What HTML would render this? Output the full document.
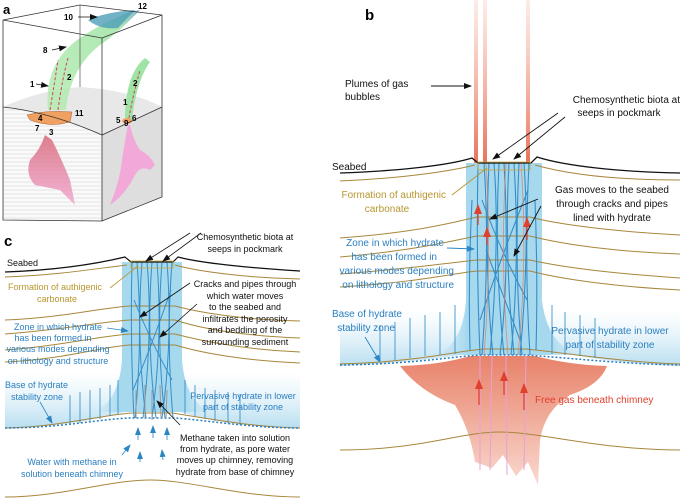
<!DOCTYPE html>
<html><head><meta charset="utf-8"><style>
html,body{margin:0;padding:0;background:#fff;}
svg{display:block;}
text{font-family:"Liberation Sans",sans-serif;}
</style></head><body>
<svg width="680" height="498" viewBox="0 0 680 498" xmlns="http://www.w3.org/2000/svg">
<defs>
<linearGradient id="plume" x1="0" y1="0" x2="0" y2="1"><stop offset="0" stop-color="#f4a38c" stop-opacity="0.2"/><stop offset="1" stop-color="#e8735a"/></linearGradient>
<linearGradient id="gas" x1="0" y1="0" x2="0" y2="1"><stop offset="0" stop-color="#e8826a"/><stop offset="1" stop-color="#f9d9cf"/></linearGradient>
<linearGradient id="band" x1="0" y1="0" x2="0" y2="1"><stop offset="0" stop-color="#d8eef7" stop-opacity="0"/><stop offset="1" stop-color="#b8def0"/></linearGradient>
<linearGradient id="chim" x1="0" y1="0" x2="1" y2="0"><stop offset="0" stop-color="#c5e6f4" stop-opacity="0.2"/><stop offset="0.22" stop-color="#a6d8ee"/><stop offset="0.78" stop-color="#a6d8ee"/><stop offset="1" stop-color="#c5e6f4" stop-opacity="0.2"/></linearGradient>
<linearGradient id="green" x1="0" y1="1" x2="1" y2="0"><stop offset="0" stop-color="#b6ecb0"/><stop offset="0.8" stop-color="#9fe3a5"/><stop offset="1" stop-color="#6aa8c8"/></linearGradient>
<linearGradient id="pink" x1="0" y1="0" x2="0" y2="1"><stop offset="0" stop-color="#d86a7a"/><stop offset="1" stop-color="#f2a8d2"/></linearGradient>
<marker id="ak" markerWidth="8" markerHeight="8" refX="7" refY="4" orient="auto" markerUnits="userSpaceOnUse"><path d="M0,1 L8,4 L0,7 Z" fill="#111"/></marker>
<marker id="ab" markerWidth="8" markerHeight="8" refX="7" refY="4" orient="auto" markerUnits="userSpaceOnUse"><path d="M0,1 L8,4 L0,7 Z" fill="#2a86c4"/></marker>
<marker id="ar" markerWidth="10" markerHeight="10" refX="9" refY="5" orient="auto" markerUnits="userSpaceOnUse"><path d="M0,1 L10,5 L0,9 Z" fill="#e0402e"/></marker>
<pattern id="hatch" width="6" height="4" patternUnits="userSpaceOnUse"><path d="M0,2 L6,2" stroke="#bbb" stroke-width="0.5"/></pattern>
</defs>

<!-- ============ PANEL A ============ -->
<text x="3" y="14" font-size="13" font-weight="bold">a</text>
<path d="M3,107 Q40,90 80,87 Q130,90 162,107 L102,135 Q50,112 3,107 Z" fill="#e8e8e8"/>
<path d="M3,107 Q50,112 102,135 L102,221 L3,220 Z" fill="url(#hatch)" stroke="none"/>
<path d="M3,107 Q50,112 102,135 L102,221 L3,220 Z" fill="#f0f0f0" opacity="0.35"/>
<path d="M102,135 L162,107 L162,197 L102,221 Z" fill="#dedede"/>
<path d="M48,110 C45,80 55,55 80,38 C95,28 110,20 130,12 L140,10 C125,25 115,35 100,45 C80,60 68,85 66,110 Z" fill="url(#green)" opacity="0.85"/>
<path d="M88,20 Q105,12 135,10 L118,28 Q100,30 88,20 Z" fill="#4e9fb8" opacity="0.8"/>
<path d="M50,110 Q55,80 58,60" stroke="#d04060" stroke-dasharray="3,2" fill="none"/>
<path d="M58,110 Q62,80 68,58" stroke="#d04060" stroke-dasharray="3,2" fill="none"/>
<path d="M125,120 C125,95 130,70 145,58 L150,62 C140,75 134,100 132,120 Z" fill="#9fe3a5"/>
<path d="M129,118 Q133,95 140,70" stroke="#d04060" stroke-dasharray="3,2" fill="none"/>
<path d="M27,115 Q45,110 72,112 L70,122 Q50,128 30,120 Z" fill="#f0a060" stroke="#a86030" stroke-width="0.5"/>
<ellipse cx="127" cy="121" rx="5" ry="3" fill="#f0a060"/>
<path d="M45,135 Q40,150 30,160 Q25,175 35,185 L60,190 Q70,200 75,205 L70,180 Q62,160 52,140 Z" fill="url(#pink)" opacity="0.85"/>
<path d="M130,125 Q133,140 140,150 Q150,155 155,165 L150,170 Q140,165 135,175 Q125,195 110,205 Q120,180 122,160 Q125,140 128,125 Z" fill="#f2a8d8"/>
<g stroke="#333" stroke-width="0.8" fill="none">
<path d="M3,20 L80,5 L162,15 L102,38 Z"/>
<path d="M3,20 L3,220 L102,221 L162,197 L162,15"/>
<path d="M102,38 L102,221"/>
<path d="M80,5 L80,87" stroke="#666"/>
<path d="M3,107 Q50,112 102,135 L162,107"/>
</g>
<g font-family="Liberation Serif,serif" font-size="8" font-weight="bold">
<text x="138" y="9">12</text><text x="64" y="20">10</text><text x="43" y="53">8</text>
<text x="30" y="87">1</text><text x="67" y="80">2</text><text x="133" y="86">2</text><text x="123" y="105">1</text>
<text x="75" y="116">11</text><text x="38" y="121">4</text><text x="35" y="131">7</text><text x="49" y="135">3</text>
<text x="116" y="123">5</text><text x="132" y="121">6</text><text x="124" y="126">9</text>
</g>
<g stroke="#111" stroke-width="0.8"><path d="M78,17 L97,17" marker-end="url(#ak)"/><path d="M52,50 L66,47" marker-end="url(#ak)"/><path d="M36,84 L48,86" marker-end="url(#ak)"/></g>

<!-- ============ PANEL B ============ -->
<text x="365" y="20" font-size="15" font-weight="bold">b</text>
<rect x="474" y="0" width="4" height="163" fill="url(#plume)"/>
<rect x="483" y="0" width="4" height="163" fill="url(#plume)"/>
<rect x="526" y="0" width="4" height="163" fill="url(#plume)"/>
<path d="M340,310 L680,310 L680,366 Q600,362 560,352 L480,352 Q420,362 340,366 Z" fill="url(#band)"/>
<path d="M466,163 L542,163 L542,300 Q547,345 580,355 L435,355 Q463,345 466,300 Z" fill="url(#chim)"/>
<path d="M400,366 Q440,365 470,356 L535,356 Q570,365 607,366 Q600,385 570,395 Q545,410 540,440 L538,485 L528,462 L516,476 L503,455 L492,468 L475,462 Q470,430 455,405 Q420,392 400,366 Z" fill="url(#gas)"/>
<g stroke="#a8873c" stroke-width="1" fill="none">
<path d="M340,181 C410,178 455,170 475,165 M535,165 C570,175 620,180 680,180"/>
<path d="M340,238 C420,232 455,222 477,217 L530,217 C560,225 620,232 680,235"/>
<path d="M340,257 C420,250 455,240 477,236 L530,236 C565,245 620,252 680,254"/>
<path d="M340,274 C420,268 455,262 477,260 L530,260 C565,268 620,274 680,278"/>
<path d="M340,287 C420,282 455,273 477,271 L530,271 C565,280 620,287 680,290"/>
<path d="M340,364 C420,362 460,350 485,349 L525,349 C560,352 620,362 680,364"/>
<path d="M340,450 C420,450 460,432 500,432 C540,432 600,450 680,450"/>
</g>
<path d="M340,365 C420,364 460,355 485,355 L525,355 C560,357 620,364 680,365" stroke="#2a7fc0" stroke-width="1.5" stroke-dasharray="2,2" fill="none"/>
<g stroke="#2a86c4" stroke-width="0.8"><path d="M380,325 L380,362"/><path d="M395,322 L395,360"/><path d="M410,318 L410,358"/><path d="M425,315 L425,356"/><path d="M440,312 L440,355"/><path d="M455,305 L455,354"/>
<path d="M552,305 L552,354"/><path d="M565,312 L565,355"/><path d="M580,315 L580,356"/><path d="M595,318 L595,358"/></g>
<g stroke="#2a86c4" stroke-width="1.1" fill="none" opacity="0.9">
<path d="M478,163 Q476,260 480,355"/><path d="M484,163 Q490,250 482,355"/><path d="M489,163 Q484,270 493,355"/>
<path d="M494,163 Q500,240 490,355"/><path d="M499,163 Q494,260 504,355"/><path d="M504,163 Q510,270 500,355"/>
<path d="M509,163 Q504,250 514,355"/><path d="M514,163 Q520,260 511,355"/><path d="M519,163 Q514,270 522,355"/>
<path d="M524,163 Q530,250 520,355"/><path d="M529,163 Q524,260 530,355"/><path d="M482,200 Q500,250 527,300"/>
<path d="M528,190 Q500,260 480,320"/><path d="M486,250 Q505,300 520,340"/><path d="M472,200 Q468,280 470,350"/><path d="M535,200 Q538,280 536,350"/>
</g>
<g stroke="#e07a5a" stroke-width="0.8" fill="none" opacity="0.8">
<path d="M486,163 Q492,260 484,355"/><path d="M506,163 Q500,260 508,355"/><path d="M521,163 Q528,260 518,355"/>
</g>
<g stroke="#e8a0d8" stroke-width="1" fill="none"><path d="M480,356 L480,470"/><path d="M492,356 L490,470"/><path d="M506,356 L507,475"/><path d="M526,356 L524,470"/></g>
<g stroke="#e0402e" stroke-width="1.3"><path d="M478,225 L478,205" marker-end="url(#ar)"/><path d="M487,245 L487,228" marker-end="url(#ar)"/><path d="M527,240 L527,218" marker-end="url(#ar)"/>
<path d="M479,405 L479,380" marker-end="url(#ar)"/><path d="M504,395 L504,372" marker-end="url(#ar)"/><path d="M524,410 L524,384" marker-end="url(#ar)"/></g>
<path d="M340,173 C400,171 450,165 472,158 L478,163 L531,163 L537,157 C565,166 620,172 680,173" stroke="#111" stroke-width="1.3" fill="none"/>
<rect x="478" y="162" width="52" height="8" fill="none" stroke="#c9a83c" stroke-width="0.8"/>
<g font-size="10" fill="#111">
<text x="345" y="87">Plumes of gas</text><text x="345" y="100">bubbles</text>
<text x="680" y="103" text-anchor="end">Chemosynthetic biota at</text><text x="619" y="116" text-anchor="middle">seeps in pockmark</text>
<text x="332" y="170">Seabed</text>
<text x="612" y="193" text-anchor="middle">Gas moves to the seabed</text><text x="612" y="207" text-anchor="middle">through cracks and pipes</text><text x="612" y="221" text-anchor="middle">lined with hydrate</text>
</g>
<g font-size="10" fill="#b8962e"><text x="446" y="198" text-anchor="end">Formation of authigenic</text><text x="387" y="212" text-anchor="middle">carbonate</text></g>
<g font-size="10" fill="#2a7fc0">
<text x="444" y="246" text-anchor="end">Zone in which hydrate</text><text x="437" y="260" text-anchor="end">has been formed in</text><text x="454" y="274" text-anchor="end">various modes depending</text><text x="454" y="288" text-anchor="end">on lithology and structure</text>
<text x="402" y="317" text-anchor="end">Base of hydrate</text><text x="395" y="331" text-anchor="end">stability zone</text>
<text x="610" y="334" text-anchor="middle">Pervasive hydrate in lower</text><text x="610" y="348" text-anchor="middle">part of stability zone</text>
</g>
<text x="535" y="403" font-size="10" fill="#e0402e">Free gas beneath chimney</text>
<g stroke="#111" stroke-width="0.9"><path d="M431,86 L471,86" marker-end="url(#ak)"/><path d="M558,113 L493,159" marker-end="url(#ak)"/><path d="M565,117 L514,159" marker-end="url(#ak)"/>
<path d="M538,199 L490,219" marker-end="url(#ak)"/><path d="M541,206 L514,256" marker-end="url(#ak)"/></g>
<path d="M452,195 L487,168" stroke="#b8962e" stroke-width="0.9"/>
<g stroke="#2a86c4" stroke-width="0.9"><path d="M447,248 L474,249" marker-end="url(#ab)"/><path d="M365,337 L380,362" marker-end="url(#ab)"/></g>

<!-- ============ PANEL C ============ -->
<text x="4" y="246" font-size="15" font-weight="bold">c</text>
<path d="M5,372 L300,372 L300,428 Q230,427 180,412 L125,412 Q70,427 5,428 Z" fill="url(#band)"/>
<path d="M122,262 L182,262 L182,360 Q185,400 210,412 L95,412 Q119,400 122,360 Z" fill="url(#chim)"/>
<g stroke="#a8873c" stroke-width="1" fill="none">
<path d="M5,277 C60,275 100,268 127,265 M175,265 C200,272 250,278 300,279"/>
<path d="M5,320 C60,318 100,308 130,306 L175,306 C205,314 250,320 300,321"/>
<path d="M5,334 C60,330 100,322 130,320 L175,320 C205,330 250,336 300,338"/>
<path d="M5,350 C60,346 100,336 130,334 L175,334 C205,342 250,350 300,352"/>
<path d="M5,362 C60,360 100,347 130,345 L175,345 C205,354 250,361 300,363"/>
<path d="M5,428 C60,427 100,415 132,413 L172,413 C205,418 250,427 300,428"/>
<path d="M5,497 C60,497 110,480 150,480 C190,480 240,497 300,497"/>
</g>
<path d="M5,428 C60,428 100,419 130,418 L175,418 C205,420 250,428 300,428" stroke="#2a7fc0" stroke-width="1.5" stroke-dasharray="2,2" fill="none"/>
<g stroke="#2a86c4" stroke-width="1" fill="none" opacity="0.9">
<path d="M132,262 Q130,340 134,418"/><path d="M137,262 Q143,340 135,418"/><path d="M142,262 Q136,340 146,418"/>
<path d="M147,262 Q153,330 143,418"/><path d="M152,262 Q146,340 156,418"/><path d="M157,262 Q163,340 152,418"/>
<path d="M162,262 Q156,340 165,418"/><path d="M167,262 Q173,340 162,418"/><path d="M172,262 Q166,340 173,418"/>
<path d="M134,300 Q150,340 172,380"/><path d="M171,290 Q150,350 133,390"/>
</g>
<g stroke="#999" stroke-width="1" fill="none"><path d="M136,390 L136,418"/><path d="M145,385 L145,418"/><path d="M152,390 L152,420"/><path d="M160,385 L161,418"/><path d="M167,390 L166,418"/></g>
<g stroke="#2a86c4" stroke-width="0.8"><path d="M70,395 L70,425"/><path d="M80,392 L80,423"/><path d="M90,390 L90,421"/><path d="M100,388 L100,419"/><path d="M110,385 L110,416"/><path d="M118,380 L118,414"/>
<path d="M185,380 L185,414"/><path d="M195,385 L195,416"/><path d="M205,388 L205,419"/><path d="M215,390 L215,421"/><path d="M228,392 L228,423"/><path d="M240,394 L240,425"/>
<path d="M138,440 L138,428" marker-end="url(#ab)"/><path d="M153,438 L153,426" marker-end="url(#ab)"/><path d="M167,440 L167,428" marker-end="url(#ab)"/>
<path d="M122,455 L130,445" marker-end="url(#ab)"/><path d="M140,462 L140,452" marker-end="url(#ab)"/><path d="M163,460 L162,450" marker-end="url(#ab)"/>
<path d="M107,328 L128,331" marker-end="url(#ab)"/><path d="M40,402 L52,423" marker-end="url(#ab)"/></g>
<path d="M5,272 C60,270 100,263 125,257 L131,262 L173,262 L178,257 C200,263 250,268 300,271" stroke="#111" stroke-width="1.2" fill="none"/>
<rect x="131" y="261" width="42" height="7" fill="none" stroke="#c9a83c" stroke-width="0.8"/>
<g font-size="9" fill="#111">
<text x="245" y="240" text-anchor="middle">Chemosynthetic biota at</text><text x="245" y="252" text-anchor="middle">seeps in pockmark</text>
<text x="7" y="266">Seabed</text>
<text x="245" y="287" text-anchor="middle">Cracks and pipes through</text><text x="245" y="299" text-anchor="middle">which water moves</text><text x="245" y="310" text-anchor="middle">to the seabed and</text><text x="245" y="322" text-anchor="middle">infiltrates the porosity</text><text x="245" y="333" text-anchor="middle">and bedding of the</text><text x="245" y="345" text-anchor="middle">surrounding sediment</text>
<text x="235" y="441" text-anchor="middle">Methane taken into solution</text><text x="235" y="452" text-anchor="middle">from hydrate, as pore water</text><text x="235" y="463" text-anchor="middle">moves up chimney, removing</text><text x="235" y="475" text-anchor="middle">hydrate from base of chimney</text>
</g>
<g font-size="9" fill="#b8962e"><text x="55" y="290" text-anchor="middle">Formation of authigenic</text><text x="57" y="302" text-anchor="middle">carbonate</text></g>
<g font-size="9" fill="#2a7fc0">
<text x="58" y="330" text-anchor="middle">Zone in which hydrate</text><text x="53" y="341" text-anchor="middle">has been formed in</text><text x="58" y="352" text-anchor="middle">various modes depending</text><text x="58" y="364" text-anchor="middle">on lithology and structure</text>
<text x="5" y="388">Base of hydrate</text><text x="11" y="400">stability zone</text>
<text x="243" y="399" text-anchor="middle">Pervasive hydrate in lower</text><text x="243" y="410" text-anchor="middle">part of stability zone</text>
<text x="72" y="465" text-anchor="middle">Water with methane in</text><text x="72" y="477" text-anchor="middle">solution beneath chimney</text>
</g>
<g stroke="#111" stroke-width="0.8"><path d="M190,233 L146,261" marker-end="url(#ak)"/><path d="M201,233 L163,261" marker-end="url(#ak)"/>
<path d="M190,283 L140,317" marker-end="url(#ak)"/><path d="M197,304 L160,337" marker-end="url(#ak)"/><path d="M180,425 L157,401" marker-end="url(#ak)"/></g>
<path d="M110,288 L138,266" stroke="#b8962e" stroke-width="0.8"/>
</svg>
</body></html>
